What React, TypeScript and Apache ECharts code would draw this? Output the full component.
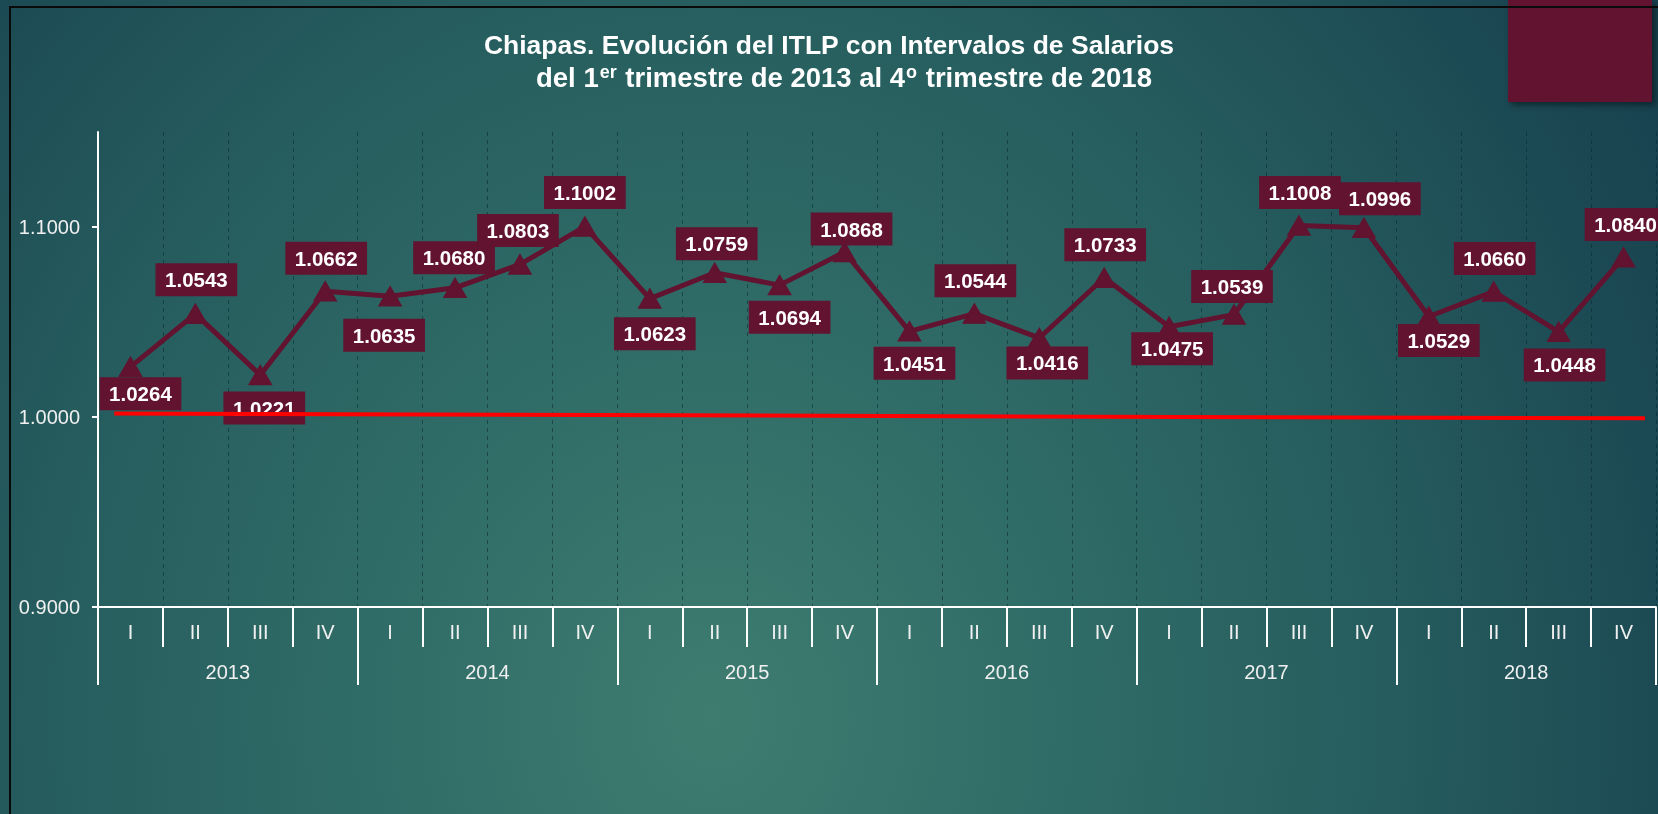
import React, { useEffect, useRef } from "react";
import * as echarts from "echarts";

const quarters = ["I", "II", "III", "IV"];
const years = ["2013", "2014", "2015", "2016", "2017", "2018"];
const quarterLabels = years.flatMap(() => quarters);

const itlpValues = [
  1.0264, 1.0543, 1.0221, 1.0662,
  1.0635, 1.068, 1.0803, 1.1002,
  1.0623, 1.0759, 1.0694, 1.0868,
  1.0451, 1.0544, 1.0416, 1.0733,
  1.0475, 1.0539, 1.1008, 1.0996,
  1.0529, 1.066, 1.0448, 1.084,
];

// reference line at 1.0 (x in quarter units, slight slope as drawn)
const referenceLine = [
  [0.25, 1.0018],
  [23.83, 0.9993],
];

const yMin = 0.9;
const yMax = 1.15;
const yInterval = 0.1;
const yTickValues = [0.9, 1.0, 1.1];

// label box offsets relative to each marker (style)
const labelOffsets = [
  [10, 27], [1, -34], [4, 33], [1, -33],
  [-6, 39], [-1, -30], [-2, -34], [0, -34],
  [5, 35], [2, -29], [10, 32], [7, -23],
  [5, 32], [1, -33], [8, 25], [1, -33],
  [3, 22], [-2, -28], [1, -33], [16, -29],
  [10, 24], [1, -33], [6, 33], [2, -33],
];

const MAROON = "#62132F";
const FONT = "'Liberation Sans', Arial, Helvetica, sans-serif";

export default function App() {
  const ref = useRef<HTMLDivElement>(null);

  useEffect(() => {
    if (!ref.current) return;
    const chart = echarts.init(ref.current, undefined, { renderer: "svg" });
    const lineTwo = {
      fontFamily: FONT,
      fontSize: 27.5,
      fontWeight: "bold",
      color: "#ffffff",
      lineHeight: 32,
    };
    chart.setOption({
      animation: false,
      backgroundColor: "transparent",
      title: {
        left: "center",
        top: 24,
        padding: 5,
        text:
          "{b|Chiapas. Evolución del ITLP con Intervalos de Salarios}\n" +
          "{c0|del 1}{sup|er}{c| trimestre de 2013 al 4}{sup|o}{c| trimestre de 2018}",
        textStyle: {
          rich: {
            b: {
              fontFamily: FONT,
              fontSize: 26.5,
              fontWeight: "bold",
              color: "#ffffff",
              lineHeight: 32,
            },
            c: lineTwo,
            c0: { ...lineTwo, padding: [0, 0, 0, 30] },
            sup: {
              fontFamily: FONT,
              fontSize: 18,
              fontWeight: "bold",
              color: "#ffffff",
              lineHeight: 18,
              verticalAlign: "top",
              padding: [2, 1, 0, 1],
            },
          },
        },
      },
      grid: { left: 98, right: 2, top: 132, bottom: 207, containLabel: false },
      xAxis: [
        {
          type: "category",
          data: quarterLabels,
          position: "bottom",
          boundaryGap: true,
          axisLine: { onZero: false, lineStyle: { color: "#ffffff", width: 2 } },
          axisTick: {
            show: true,
            interval: 0,
            length: 40,
            lineStyle: { color: "#ffffff", width: 2 },
          },
          axisLabel: {
            interval: 0,
            margin: 15,
            color: "#f0f0f0",
            fontSize: 20,
            fontFamily: FONT,
          },
          splitLine: {
            show: true,
            interval: 0,
            lineStyle: { color: "rgba(10,40,45,0.55)", width: 1, type: [4, 4] },
          },
        },
        {
          type: "category",
          data: years,
          position: "bottom",
          boundaryGap: true,
          axisLine: { show: false, onZero: false },
          axisTick: {
            show: true,
            interval: 0,
            length: 78,
            lineStyle: { color: "#ffffff", width: 2 },
          },
          axisLabel: {
            interval: 0,
            margin: 55,
            color: "#f0f0f0",
            fontSize: 20,
            fontFamily: FONT,
          },
          splitLine: { show: false },
        },
        {
          type: "value",
          show: false,
          min: 0,
          max: 24,
          position: "bottom",
        },
      ],
      yAxis: {
        type: "value",
        min: yMin,
        max: yMax,
        interval: yInterval,
        axisLine: { show: true, lineStyle: { color: "#ffffff", width: 2 } },
        axisTick: {
          show: true,
          length: 6,
          customValues: yTickValues,
          lineStyle: { color: "#ffffff", width: 2 },
        },
        axisLabel: {
          margin: 18,
          color: "#f0f0f0",
          fontSize: 20,
          fontFamily: FONT,
          customValues: yTickValues,
          formatter: (v: number) => v.toFixed(4),
        },
        splitLine: { show: false },
      },
      series: [
        {
          type: "line",
          xAxisIndex: 0,
          yAxisIndex: 0,
          z: 2,
          data: itlpValues.map((v, i) => ({
            value: v,
            label: { offset: labelOffsets[i] },
          })),
          symbol: "triangle",
          symbolSize: [22, 19],
          lineStyle: { color: MAROON, width: 5 },
          itemStyle: { color: MAROON, borderColor: MAROON, borderWidth: 1.5 },
          label: {
            show: true,
            position: "inside",
            formatter: (p: any) => Number(p.value).toFixed(4),
            backgroundColor: MAROON,
            color: "#ffffff",
            fontWeight: "bold",
            fontSize: 20.5,
            lineHeight: 21,
            fontFamily: FONT,
            padding: [6, 9.5, 6, 9.5],
          },
        },
        {
          type: "line",
          xAxisIndex: 2,
          yAxisIndex: 0,
          z: 6,
          silent: true,
          data: referenceLine,
          symbol: "none",
          lineStyle: { color: "#ff0000", width: 4 },
        },
      ],
    });
    return () => chart.dispose();
  }, []);

  return (
    <div
      style={{
        position: "fixed",
        left: 0,
        top: 0,
        width: 1658,
        height: 814,
        overflow: "hidden",
        background:
          "radial-gradient(ellipse 70% 160% at 43% 88%, #3e7c70 0%, #306c67 30%, #255b5d 60%, #1b4853 85%, #163e4d 100%)",
      }}
    >
      <div
        style={{
          position: "absolute",
          left: 1508,
          top: 0,
          width: 144,
          height: 102,
          background: MAROON,
          boxShadow: "3px 3px 6px rgba(0,0,0,0.45)",
        }}
      />
      <div
        style={{
          position: "absolute",
          left: 9,
          top: 6,
          width: 1800,
          height: 1000,
          borderTop: "2px solid #0a0a0a",
          borderLeft: "2px solid #0a0a0a",
        }}
      />
      <div
        ref={ref}
        style={{ position: "absolute", left: 0, top: 0, width: 1658, height: 814 }}
      />
    </div>
  );
}
